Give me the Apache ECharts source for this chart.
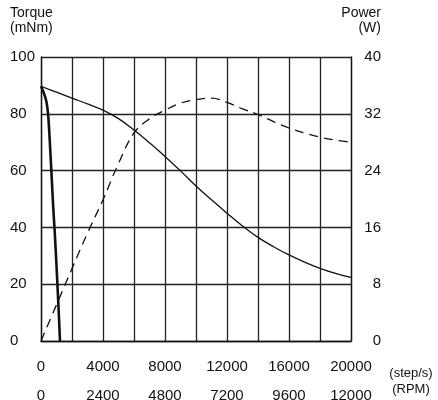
<!DOCTYPE html>
<html>
<head>
<meta charset="utf-8">
<script src="https://cdn.jsdelivr.net/npm/echarts@6/dist/echarts.min.js"></script>
<style>
  html, body { margin: 0; padding: 0; background: #fff; }
  #chart { width: 438px; height: 400px; }
</style>
</head>
<body>
<div id="chart"></div>
<script>
// values
const speeds = [0, 1000, 2000, 3000, 4000, 5000, 6000, 7000, 8000, 9000, 10000,
  11000, 12000, 13000, 14000, 15000, 16000, 17000, 18000, 19000, 20000];
const torque = [89.7, 87.6, 85.5, 83.5, 81.3, 78.3, 74.3, 69.8, 65.0, 59.9, 54.6,
  49.7, 45.0, 40.5, 36.5, 33.2, 30.3, 27.8, 25.6, 23.8, 22.4];
const power = [0, 5.1, 10.2, 15.2, 19.9, 25.0, 29.3, 31.3, 32.5, 33.5, 34.0,
  34.2, 33.6, 32.7, 31.9, 30.9, 30.0, 29.3, 28.7, 28.3, 28.0];
const pullInSpeeds = [0, 120, 250, 360, 452, 530, 590, 667, 800, 890, 1060, 1226];
const pullInTorque = [89.7, 88.2, 86.2, 84, 80.2, 74, 68, 60, 46, 38, 20, 0];
const stepLabels = ['0', '4000', '8000', '12000', '16000', '20000'];
const rpmLabels = ['0', '2400', '4800', '7200', '9600', '12000'];

const pairs = (xs, ys) => xs.map((x, i) => [x, ys[i]]);
const font = '"Liberation Sans", Arial, sans-serif';
const ink = '#111';

const chart = echarts.init(document.getElementById('chart'), null, { renderer: 'canvas' });
chart.setOption({
  backgroundColor: '#fff',
  animation: false,
  grid: { left: 41, right: 87, top: 57, bottom: 59, outerBoundsMode: 'none', containLabel: false },
  graphic: [
    { type: 'text', left: 10, top: 6, style: { text: 'Torque\n(mNm)', font: '14px ' + font, fill: ink, lineHeight: 15 } },
    { type: 'text', style: { x: 381, y: 6, text: 'Power\n(W)', font: '14px ' + font, fill: ink, align: 'right', lineHeight: 15 } },
    { type: 'text', style: { x: 411, y: 365, text: '(step/s)\n(RPM)', font: '13px ' + font, fill: ink, align: 'center', lineHeight: 16 } },
  ],
  xAxis: {
    type: 'value', min: 0, max: 20000, interval: 2000,
    axisLine: { lineStyle: { color: ink, width: 1.3 } },
    axisTick: { show: false },
    axisLabel: {
      color: ink, fontSize: 15, fontFamily: font, margin: 11, lineHeight: 29,
      formatter: v => (v % 4000 ? '' : stepLabels[v / 4000] + '\n' + rpmLabels[v / 4000]),
    },
    splitLine: { lineStyle: { color: '#222', width: 1.3 } },
  },
  yAxis: [
    {
      type: 'value', min: 0, max: 100, interval: 20,
      axisLine: { show: true, lineStyle: { color: ink, width: 1.3 } },
      axisTick: { show: false },
      axisLabel: { color: ink, fontSize: 15, fontFamily: font, align: 'left', margin: 31 },
      splitLine: { lineStyle: { color: '#222', width: 1.3 } },
    },
    {
      type: 'value', min: 0, max: 40, interval: 8, position: 'right',
      axisLine: { show: true, lineStyle: { color: ink, width: 1.3 } },
      axisTick: { show: false },
      axisLabel: { color: ink, fontSize: 15, fontFamily: font, align: 'right', margin: 30 },
      splitLine: { show: false },
    },
  ],
  series: [
    {
      name: 'Pull-out torque', type: 'line', yAxisIndex: 0, data: pairs(speeds, torque),
      showSymbol: false, smooth: 0.4,
      lineStyle: { color: ink, width: 1.3 },
    },
    {
      name: 'Pull-in torque', type: 'line', yAxisIndex: 0, data: pairs(pullInSpeeds, pullInTorque),
      showSymbol: false, smooth: 0.3,
      lineStyle: { color: ink, width: 2.6 },
    },
    {
      name: 'Power', type: 'line', yAxisIndex: 1, data: pairs(speeds, power),
      showSymbol: false, smooth: 0.4,
      lineStyle: { color: ink, width: 1.3, type: [9, 6] },
    },
  ],
});
</script>
</body>
</html>
